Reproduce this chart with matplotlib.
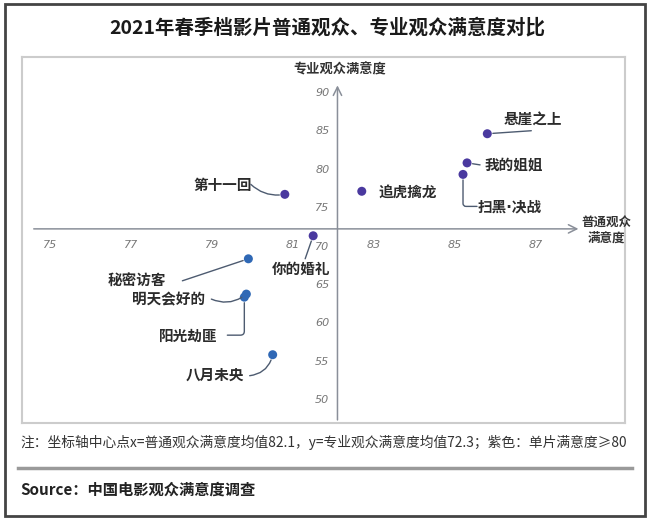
import numpy as np
import matplotlib.pyplot as plt
from matplotlib.patches import Rectangle

plt.rcParams['font.family'] = ['Noto Sans CJK SC', 'DejaVu Sans']

# data
films = ["悬崖之上", "我的姐姐", "扫黑·决战", "第十一回", "追虎擒龙",
         "你的婚礼", "秘密访客", "明天会好的", "阳光劫匪", "八月未央"]
general_score = [85.8, 85.3, 85.2, 80.8, 82.7, 81.5, 79.9, 79.85, 79.8, 80.5]
expert_score = [84.7, 80.9, 79.4, 76.8, 77.2, 71.4, 68.4, 63.8, 63.4, 55.9]
center_x = 82.1
center_y = 72.3
x_ticks = [75, 77, 79, 81, 83, 85, 87]
y_ticks = [90, 85, 80, 75, 70, 65, 60, 55, 50]

# label layout: text offset, leader start offset (pixels), connection style
purple = "#4a399f"
blue = "#2f68b5"
colours = [purple] * 6 + [blue] * 4
label_pos = [(46, 14), (47, -2), (47, -33), (-62, 9), (46, -1),
             (-12, -34), (-111, -23), (-78, -6), (-56, -39), (-58, -21)]
lead_pos = [(44, 3), (13, -2), (14, -32), (-34, 10), None,
            (-8, -23), (-66, -22), (-35, -5), (-17, -38), (-23, -21)]
lead_style = ["arc3,rad=0", "arc3,rad=0", "angle,angleA=0,angleB=90,rad=3",
              "arc3,rad=0.25", None, "arc3,rad=0", "arc3,rad=0",
              "arc3,rad=0.3", "angle,angleA=0,angleB=90,rad=4", "arc3,rad=0.35"]

fig = plt.figure(figsize=(6.5, 5.2), dpi=100)

# outer frame
fig.patches.append(Rectangle((5 / 650, 4 / 520), 640 / 650, 512 / 520,
                             transform=fig.transFigure, fill=False,
                             edgecolor="#444444", linewidth=2))

fig.text(0.503, 1 - 28 / 520, "2021年春季档影片普通观众、专业观众满意度对比",
         ha="center", va="center", fontsize=14, fontweight="bold", color="#1a1a1a")

ax = fig.add_axes([22 / 650, 1 - 423 / 520, 603 / 650, 366 / 520])
ax.set_xlim(74.31, 89.2)
ax.set_ylim(47.0, 94.7)
ax.set_xticks([])
ax.set_yticks([])
for s in ax.spines.values():
    s.set_color("#cccccc")
    s.set_linewidth(1.5)

# axes through the centre point
axis_kw = dict(arrowstyle="->,head_length=0.6,head_width=0.3", color="#8a8f99",
               linewidth=1.1, shrinkA=0, shrinkB=0)
ax.annotate("", xy=(88.05, center_y), xytext=(74.6, center_y), arrowprops=axis_kw)
ax.annotate("", xy=(center_x, 91.0), xytext=(center_x, 47.4), arrowprops=axis_kw)

for t in x_ticks:
    ax.annotate(str(t), xy=(t, center_y), xytext=(0, -16), textcoords="offset pixels",
                ha="center", va="center", fontsize=8, style="italic",
                color="#777777", family="DejaVu Sans")
for t in y_ticks:
    ax.annotate(str(t), xy=(center_x, t), xytext=(-8, 0), textcoords="offset pixels",
                ha="right", va="center", fontsize=8, style="italic",
                color="#777777", family="DejaVu Sans")

ax.annotate("普通观众\n满意度", xy=(88.05, center_y), xytext=(28, -2),
            textcoords="offset pixels", ha="center", va="center", fontsize=9,
            fontweight="bold", color="#333333", linespacing=1.25)
ax.annotate("专业观众满意度", xy=(center_x, 91.0), xytext=(2, 16),
            textcoords="offset pixels", ha="center", va="center", fontsize=9.5,
            fontweight="bold", color="#333333")

ax.scatter(general_score, expert_score, s=42, c=colours, zorder=3, linewidths=0)

for i, name in enumerate(films):
    x, y = general_score[i], expert_score[i]
    # DejaVu first so the middle dot stays narrow; CJK glyphs fall back to Noto
    ax.annotate(name, xy=(x, y), xytext=label_pos[i], textcoords="offset pixels",
                ha="center", va="center", fontsize=10.5, fontweight="bold",
                color="#2b2b2b", family=["DejaVu Sans", "Noto Sans CJK SC"])
    if lead_pos[i] is not None:
        ax.annotate("", xy=(x, y), xytext=lead_pos[i], textcoords="offset pixels",
                    arrowprops=dict(arrowstyle="-", color="#4d5b70", linewidth=1.0,
                                    shrinkA=0, shrinkB=4,
                                    connectionstyle=lead_style[i]))

fig.text(20 / 650, 1 - 442 / 520,
         "注：坐标轴中心点x=普通观众满意度均值82.1，y=专业观众满意度均值72.3；紫色：单片满意度≥80",
         ha="left", va="center", fontsize=9.9, color="#333333")
fig.add_artist(plt.Line2D([18 / 650, 632 / 650], [1 - 468 / 520, 1 - 468 / 520],
                          transform=fig.transFigure, color="#9a9a9a", linewidth=2.5))
fig.text(20 / 650, 1 - 490 / 520, "Source：中国电影观众满意度调查",
         ha="left", va="center", fontsize=11, fontweight="bold", color="#222222")

fig.savefig("out.png", dpi=100)
